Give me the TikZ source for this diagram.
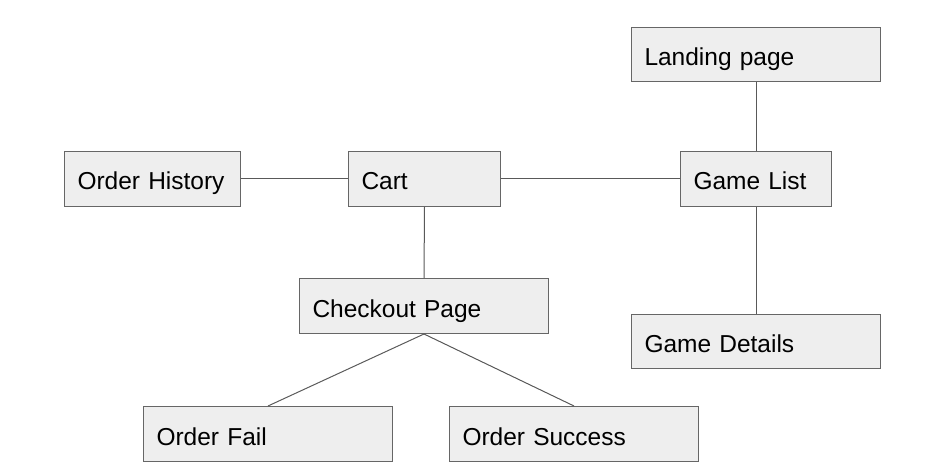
\documentclass[tikz,border=0pt]{standalone}
\usepackage{fontspec}
\setmainfont{Liberation Sans}
\definecolor{boxfill}{HTML}{EEEEEE}
\definecolor{boxline}{HTML}{666666}
\definecolor{linkline}{HTML}{595959}
\begin{document}
\begin{tikzpicture}[x=1pt,y=-1pt,
  pagebox/.style={draw=boxline, fill=boxfill, line width=1pt, anchor=north west,
    rectangle, inner xsep=13pt, inner ysep=0pt, align=left,
    text height=26pt, text depth=4pt,
    font=\fontsize{24.5}{29}\selectfont},
  link/.style={draw=linkline, line width=1pt}]
\useasboundingbox (0,0) rectangle (938,476);
\node[pagebox, minimum width=249pt, minimum height=54pt, text width=223pt] (landing) at (631,27) {Landing page};
\node[pagebox, minimum width=151pt, minimum height=55pt, text width=125pt] (gamelist) at (680,151) {Game List};
\node[pagebox, minimum width=152pt, minimum height=55pt, text width=126pt] (cart) at (348,151) {Cart};
\node[pagebox, minimum width=176pt, minimum height=55pt, text width=150pt] (history) at (64,151) {Order History};
\node[pagebox, minimum width=249pt, minimum height=55pt, text width=223pt] (checkout) at (299,278) {Checkout Page};
\node[pagebox, minimum width=249pt, minimum height=54pt, text width=223pt] (details) at (631,314) {Game Details};
\node[pagebox, minimum width=249pt, minimum height=55pt, text width=223pt] (fail) at (143,406) {Order Fail};
\node[pagebox, minimum width=249pt, minimum height=55pt, text width=223pt] (success) at (449,406) {Order Success};
\draw[link] (landing.south) -- (gamelist.north);
\draw[link] (gamelist.west) -- (cart.east);
\draw[link] (cart.west) -- (history.east);
\draw[link] (cart.south) -- (checkout.north);
\draw[link] (gamelist.south) -- (details.north);
\draw[link] (checkout.south) -- (fail.north);
\draw[link] (checkout.south) -- (success.north);
\end{tikzpicture}
\end{document}
